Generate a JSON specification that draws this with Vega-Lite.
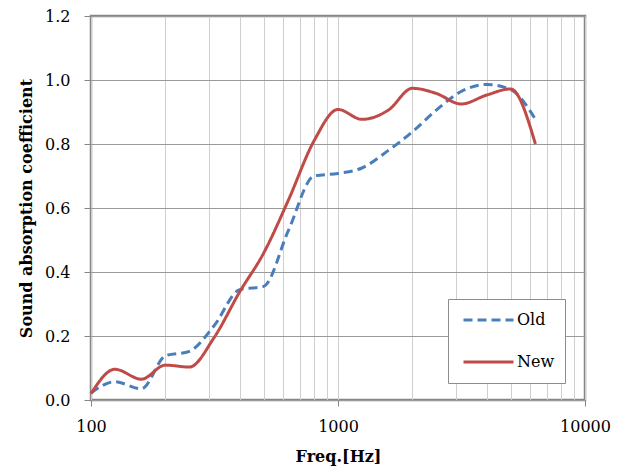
{
  "$schema": "https://vega.github.io/schema/vega-lite/v6.json",
  "width": 494,
  "height": 384,
  "autosize": "none",
  "padding": {"left": 91, "top": 16, "right": 39, "bottom": 70},
  "background": "white",
  "config": {
    "font": "DejaVu Serif",
    "view": {"stroke": "#868686", "strokeWidth": 2.5}
  },
  "data": {
    "values": [
      {"f": 100, "a": 0.022, "s": "Old"},
      {"f": 125, "a": 0.057, "s": "Old"},
      {"f": 160, "a": 0.035, "s": "Old"},
      {"f": 200, "a": 0.138, "s": "Old"},
      {"f": 250, "a": 0.152, "s": "Old"},
      {"f": 315, "a": 0.232, "s": "Old"},
      {"f": 400, "a": 0.345, "s": "Old"},
      {"f": 500, "a": 0.355, "s": "Old"},
      {"f": 630, "a": 0.53, "s": "Old"},
      {"f": 800, "a": 0.7, "s": "Old"},
      {"f": 1000, "a": 0.708, "s": "Old"},
      {"f": 1250, "a": 0.725, "s": "Old"},
      {"f": 1600, "a": 0.78, "s": "Old"},
      {"f": 2000, "a": 0.838, "s": "Old"},
      {"f": 2500, "a": 0.906, "s": "Old"},
      {"f": 3150, "a": 0.964, "s": "Old"},
      {"f": 4000, "a": 0.986, "s": "Old"},
      {"f": 5000, "a": 0.97, "s": "Old"},
      {"f": 6300, "a": 0.877, "s": "Old"},
      {"f": 100, "a": 0.02, "s": "New"},
      {"f": 125, "a": 0.096, "s": "New"},
      {"f": 160, "a": 0.065, "s": "New"},
      {"f": 200, "a": 0.109, "s": "New"},
      {"f": 250, "a": 0.103, "s": "New"},
      {"f": 315, "a": 0.195, "s": "New"},
      {"f": 400, "a": 0.338, "s": "New"},
      {"f": 500, "a": 0.459, "s": "New"},
      {"f": 630, "a": 0.625, "s": "New"},
      {"f": 800, "a": 0.81, "s": "New"},
      {"f": 1000, "a": 0.908, "s": "New"},
      {"f": 1250, "a": 0.877, "s": "New"},
      {"f": 1600, "a": 0.906, "s": "New"},
      {"f": 2000, "a": 0.974, "s": "New"},
      {"f": 2500, "a": 0.958, "s": "New"},
      {"f": 3150, "a": 0.925, "s": "New"},
      {"f": 4000, "a": 0.953, "s": "New"},
      {"f": 5000, "a": 0.972, "s": "New"},
      {"f": 6300, "a": 0.8, "s": "New"}
    ]
  },
  "mark": {"type": "line", "interpolate": "monotone", "strokeWidth": 3},
  "encoding": {
    "x": {
      "field": "f",
      "type": "quantitative",
      "scale": {"type": "log", "domain": [100, 10000], "nice": false},
      "title": "Freq.[Hz]",
      "axis": {
        "values": [100, 200, 300, 400, 500, 600, 700, 800, 900, 1000, 2000, 3000, 4000, 5000, 6000, 7000, 8000, 9000, 10000],
        "labelExpr": "datum.value == 100 || datum.value == 1000 || datum.value == 10000 ? datum.value : ''",
        "grid": true,
        "gridColor": "#cfcfcf",
        "gridWidth": 1,
        "domain": false,
        "tickColor": {"condition": {"test": "datum.value == 100 || datum.value == 1000 || datum.value == 10000", "value": "#868686"}, "value": "transparent"},
        "tickSize": 6,
        "labelFontSize": 16,
        "labelColor": "#000",
        "labelPadding": 12,
        "labelFlush": false,
        "titleFontSize": 16,
        "titleFontWeight": "bold",
        "titleColor": "#000",
        "titlePadding": 14
      }
    },
    "y": {
      "field": "a",
      "type": "quantitative",
      "scale": {"domain": [0, 1.2], "nice": false},
      "title": "Sound absorption coefficient",
      "axis": {
        "values": [0, 0.2, 0.4, 0.6, 0.8, 1.0, 1.2],
        "format": ".1f",
        "grid": true,
        "gridColor": "#9a9a9a",
        "domain": false,
        "tickColor": "#868686",
        "tickSize": 7,
        "labelFontSize": 16,
        "labelColor": "#000",
        "labelPadding": 14,
        "titleFontSize": 16,
        "titleFontWeight": "bold",
        "titleColor": "#000",
        "titlePadding": 10
      }
    },
    "color": {
      "field": "s",
      "type": "nominal",
      "scale": {"domain": ["Old", "New"], "range": ["#4a7ebb", "#be4b48"]},
      "legend": {
        "title": null,
        "orient": "none",
        "legendX": 357,
        "legendY": 283,
        "fillColor": "white",
        "strokeColor": "#8c8c8c",
        "padding": 10,
        "symbolType": "stroke",
        "symbolSize": 2500,
        "symbolStrokeWidth": 3,
        "symbolOffset": 4,
        "clipHeight": 22,
        "labelFontSize": 16,
        "labelColor": "#000",
        "labelOffset": 2,
        "labelExpr": "datum.label + '       '",
        "rowPadding": 20
      }
    },
    "strokeDash": {
      "field": "s",
      "type": "nominal",
      "scale": {"domain": ["Old", "New"], "range": [[9, 5], [1, 0]]},
      "legend": null
    }
  }
}
